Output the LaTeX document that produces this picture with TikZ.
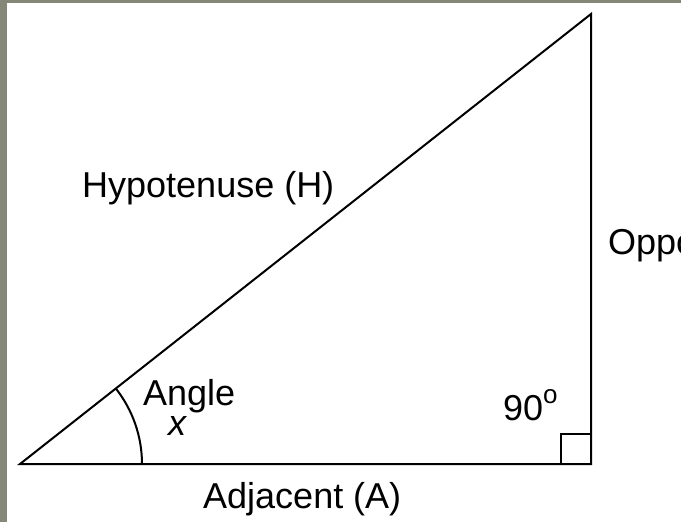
\documentclass[tikz,border=0pt]{standalone}
\usepackage{fontspec}
\setmainfont{Liberation Sans}
\definecolor{frame}{RGB}{133,136,120}
\begin{document}
\begin{tikzpicture}[x=1pt,y=-1pt,
  edge/.style={draw=black,line width=2pt,line join=miter},
  lbl/.style={inner sep=0pt,anchor=base west,font=\fontsize{36}{40}\selectfont}]
\useasboundingbox (0,0) rectangle (681,522);
\clip (0,0) rectangle (681,522);
\fill[frame] (0,0) rectangle (681,522);
\fill[white] (7,3) rectangle (681,522);
\coordinate (A) at (20,464);
\coordinate (B) at (591,464);
\coordinate (C) at (591,14);
\draw[edge] (A) -- (B) -- (C) -- cycle;
% right angle mark
\coordinate (S1) at (561,464);
\coordinate (S2) at (561,434);
\coordinate (S3) at (591,434);
\draw[edge] (S1) -- (S2) -- (S3);
% angle arc
\coordinate (R) at (142,464);
\draw[edge] (R) arc[start angle=0,end angle=-38.24,radius=122];
\node[lbl] (hyp) at (82,197) {Hypotenuse (H)};
\node[lbl] (adj) at (203,508) {Adjacent (A)};
\node[lbl] (opp) at (608,254) {Opposite (O)};
\node[lbl] (ang) at (143,405) {Angle};
\node[lbl] (x) at (168,435) {\itshape x};
\node[lbl] (deg) at (503,420) {90\raisebox{17pt}{\fontsize{26}{26}\selectfont o}};
\end{tikzpicture}
\end{document}
